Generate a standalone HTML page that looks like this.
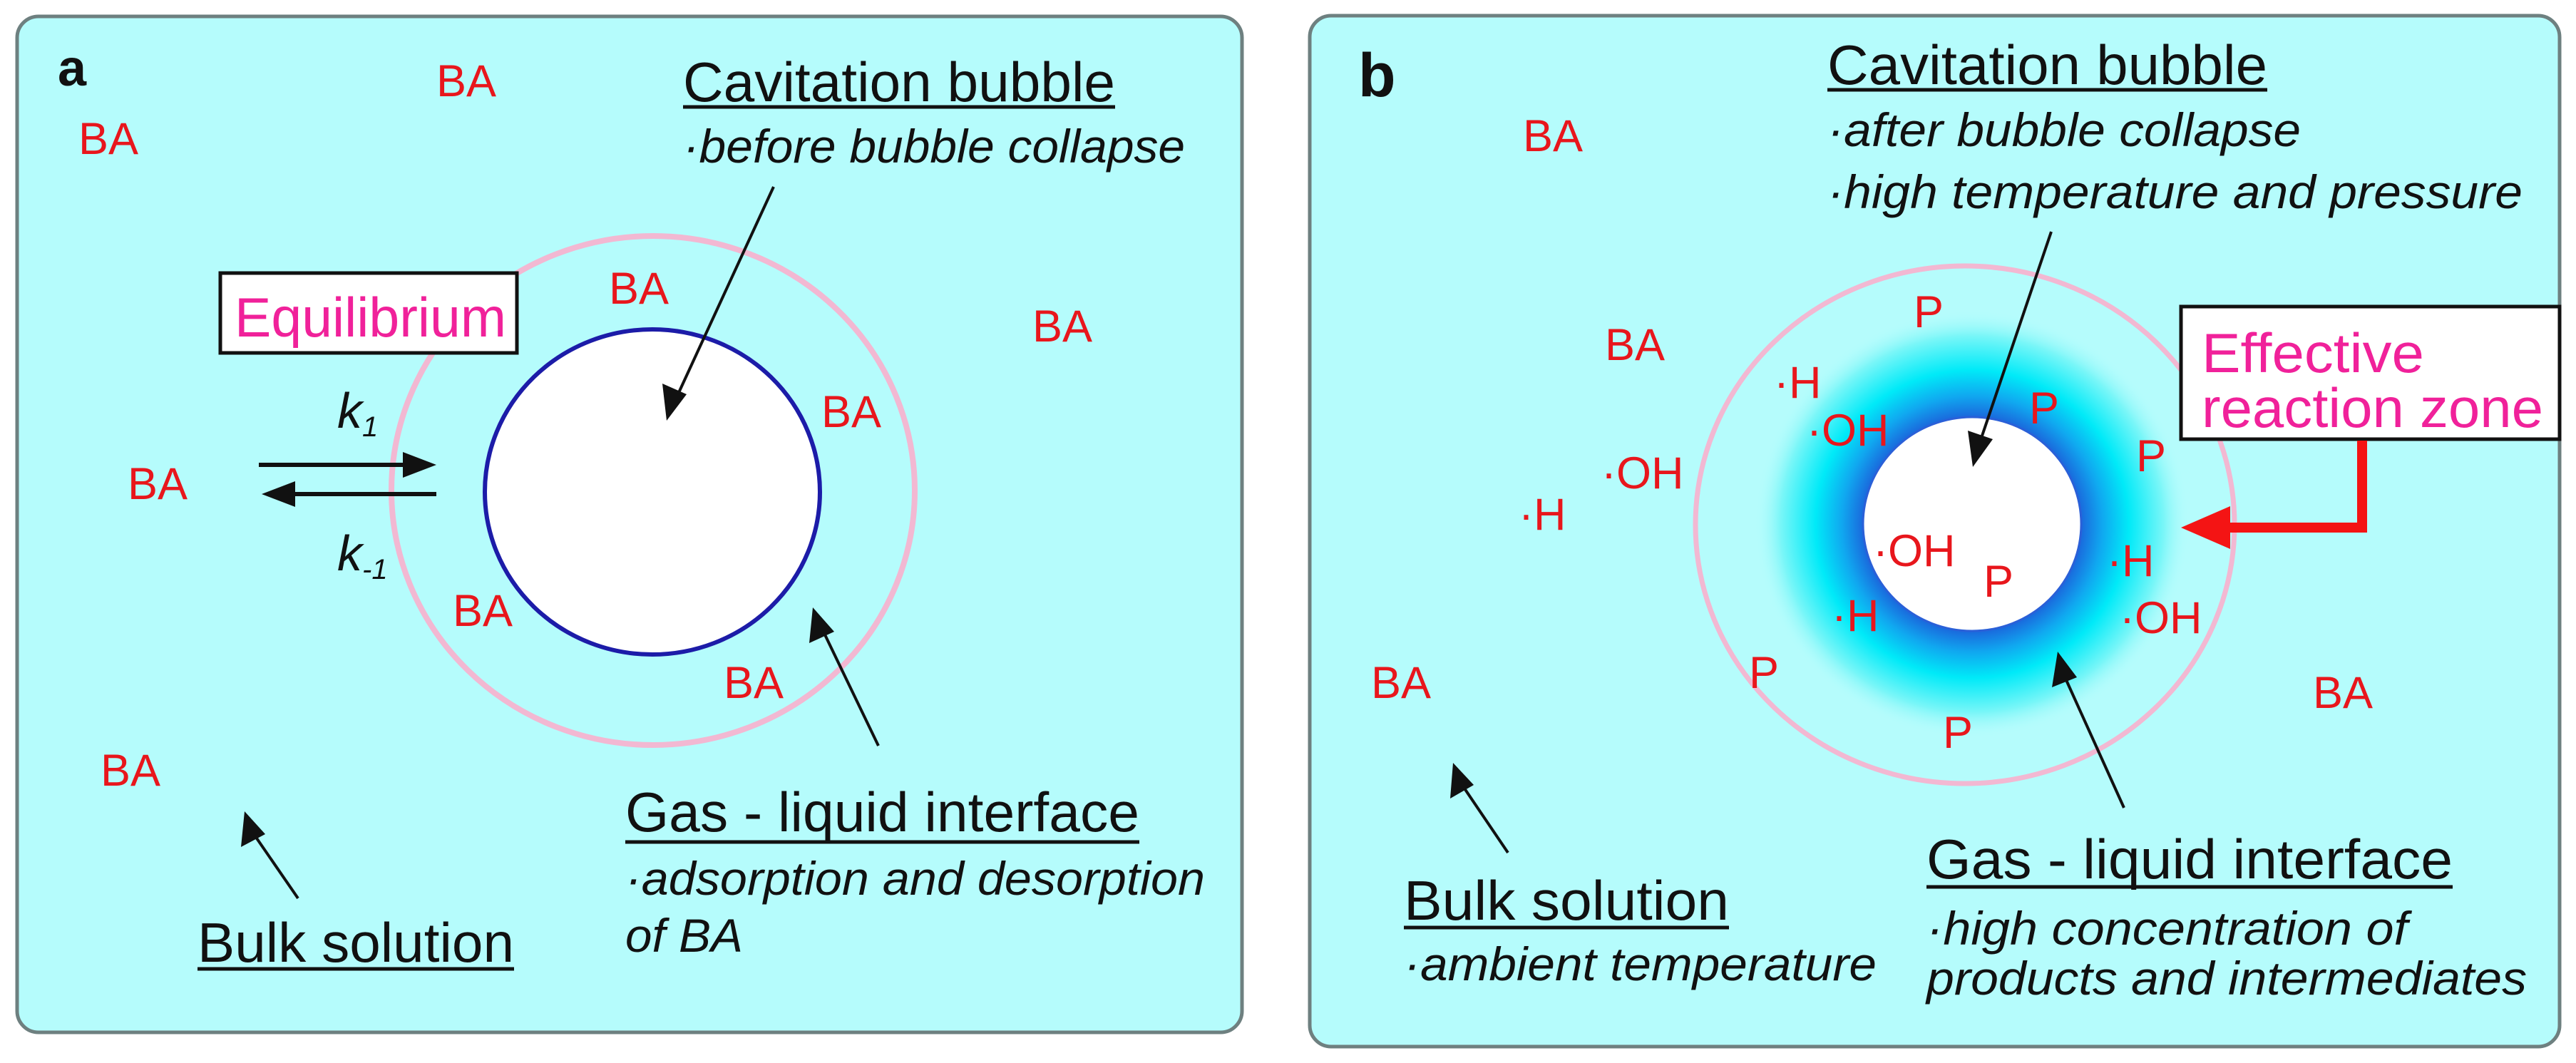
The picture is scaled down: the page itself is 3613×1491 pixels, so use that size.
<!DOCTYPE html>
<html><head><meta charset="utf-8"><style>
html,body{margin:0;padding:0;background:#fff;}
svg{display:block;}
text{font-family:"Liberation Sans",Arial,sans-serif;}
.r{fill:#e8161c;font-size:63px;}
.t{fill:#111;font-size:78px;}
.i{fill:#111;font-size:66px;font-style:italic;}
</style></head><body>
<svg width="3613" height="1491" viewBox="0 0 3613 1491" xmlns="http://www.w3.org/2000/svg">
<defs>
<radialGradient id="g" cx="0.5" cy="0.5" r="0.5">
<stop offset="0" stop-color="#1a60d8"/>
<stop offset="0.5" stop-color="#1a68dc"/>
<stop offset="0.6" stop-color="#10a8f0"/>
<stop offset="0.72" stop-color="#00eaf8"/>
<stop offset="0.88" stop-color="#78f6f8"/>
<stop offset="1" stop-color="#b5fcfc" stop-opacity="0"/>
</radialGradient>
</defs>
<rect x="24" y="23" width="1718" height="1425" rx="30" fill="#b5fcfc" stroke="#6e8080" stroke-width="5"/>
<rect x="1837" y="22" width="1753" height="1446" rx="30" fill="#b5fcfc" stroke="#6e8080" stroke-width="5"/>

<text x="81" y="120" font-size="72" font-weight="bold" fill="#111">a</text>
<ellipse cx="916" cy="688" rx="367" ry="357" fill="none" stroke="#f2b8d2" stroke-width="8"/>
<ellipse cx="915" cy="690" rx="235" ry="228" fill="#fff" stroke="#1c1ca8" stroke-width="6"/>

<text class="r" x="612" y="135">BA</text>
<text class="r" x="110" y="216">BA</text>
<text class="r" x="854" y="426">BA</text>
<text class="r" x="1448" y="479">BA</text>
<text class="r" x="1152" y="599">BA</text>
<text class="r" x="179" y="700">BA</text>
<text class="r" x="635" y="878">BA</text>
<text class="r" x="1015" y="979">BA</text>
<text class="r" x="141" y="1102">BA</text>

<text class="t" x="958" y="142" textLength="606" lengthAdjust="spacingAndGlyphs">Cavitation bubble</text>
<line x1="958" y1="150" x2="1564" y2="150" stroke="#111" stroke-width="5"/>
<text class="i" x="958" y="228" textLength="704" lengthAdjust="spacingAndGlyphs">·before bubble collapse</text>

<rect x="309" y="383" width="416" height="112" fill="#fff" stroke="#111" stroke-width="5"/>
<text x="329" y="472" font-size="78" fill="#f0219a" textLength="381" lengthAdjust="spacingAndGlyphs">Equilibrium</text>

<text x="473" y="600" font-size="70" font-style="italic" fill="#111">k<tspan font-size="40" dy="12">1</tspan></text>
<text x="473" y="800" font-size="70" font-style="italic" fill="#111">k<tspan font-size="40" dy="12">-1</tspan></text>
<line x1="363" y1="652" x2="575" y2="652" stroke="#111" stroke-width="6"/>
<polygon points="612,652 565,634 565,670" fill="#111"/>
<line x1="405" y1="693" x2="612" y2="693" stroke="#111" stroke-width="6"/>
<polygon points="367,693 414,675 414,711" fill="#111"/>

<line x1="1085" y1="262" x2="950" y2="555" stroke="#111" stroke-width="4"/>
<polygon points="935,590 929,538 963,553" fill="#111"/>
<line x1="1232" y1="1046" x2="1153" y2="882" stroke="#111" stroke-width="4"/>
<polygon points="1140,852 1135,902 1170,886" fill="#111"/>
<line x1="418" y1="1260" x2="356" y2="1170" stroke="#111" stroke-width="4"/>
<polygon points="343,1138 338,1188 372,1170" fill="#111"/>

<text class="t" x="277" y="1349" textLength="444" lengthAdjust="spacingAndGlyphs">Bulk solution</text>
<line x1="277" y1="1359" x2="721" y2="1359" stroke="#111" stroke-width="5"/>
<text class="t" x="877" y="1166" textLength="721" lengthAdjust="spacingAndGlyphs">Gas - liquid interface</text>
<line x1="877" y1="1181" x2="1598" y2="1181" stroke="#111" stroke-width="5"/>
<text class="i" x="877" y="1255" textLength="813" lengthAdjust="spacingAndGlyphs">·adsorption and desorption</text>
<text class="i" x="877" y="1335" textLength="165" lengthAdjust="spacingAndGlyphs">of BA</text>

<text x="1905" y="135" font-size="86" font-weight="bold" fill="#111">b</text>
<ellipse cx="2766" cy="735" rx="305" ry="300" fill="url(#g)"/>
<ellipse cx="2756" cy="736" rx="378" ry="363" fill="none" stroke="#f2b8d2" stroke-width="7"/>
<ellipse cx="2766" cy="735" rx="153" ry="150" fill="#fff" stroke="#2a60d8" stroke-width="3"/>

<text class="t" x="2563" y="118" textLength="617" lengthAdjust="spacingAndGlyphs">Cavitation bubble</text>
<line x1="2563" y1="126" x2="3180" y2="126" stroke="#111" stroke-width="5"/>
<text class="i" x="2563" y="205" textLength="664" lengthAdjust="spacingAndGlyphs">·after bubble collapse</text>
<text class="i" x="2563" y="292" textLength="975" lengthAdjust="spacingAndGlyphs">·high temperature and pressure</text>

<text class="r" x="2136" y="212">BA</text>
<text class="r" x="2251" y="505">BA</text>
<text class="r" x="1923" y="979">BA</text>
<text class="r" x="3244" y="993">BA</text>
<text class="r" x="2684" y="459">P</text>
<text class="r" x="2846" y="594">P</text>
<text class="r" x="2996" y="661">P</text>
<text class="r" x="2782" y="837">P</text>
<text class="r" x="2453" y="965">P</text>
<text class="r" x="2725" y="1049">P</text>
<text class="r" x="2488" y="558">·H</text>
<text class="r" x="2534" y="625">·OH</text>
<text class="r" x="2246" y="685">·OH</text>
<text class="r" x="2130" y="743">·H</text>
<text class="r" x="2627" y="794">·OH</text>
<text class="r" x="2955" y="808">·H</text>
<text class="r" x="2569" y="885">·H</text>
<text class="r" x="2973" y="888">·OH</text>

<line x1="2877" y1="325" x2="2777" y2="620" stroke="#111" stroke-width="4"/>
<polygon points="2767,655 2760,604 2795,616" fill="#111"/>
<line x1="2979" y1="1133" x2="2894" y2="945" stroke="#111" stroke-width="4"/>
<polygon points="2886,914 2878,964 2913,950" fill="#111"/>
<line x1="2115" y1="1196" x2="2050" y2="1100" stroke="#111" stroke-width="4"/>
<polygon points="2038,1070 2034,1120 2067,1101" fill="#111"/>

<rect x="3059" y="430" width="531" height="186" fill="#fff" stroke="#111" stroke-width="5"/>
<text x="3088" y="522" font-size="78" fill="#f0219a" textLength="312" lengthAdjust="spacingAndGlyphs">Effective</text>
<text x="3088" y="599" font-size="78" fill="#f0219a" textLength="479" lengthAdjust="spacingAndGlyphs">reaction zone</text>
<polyline points="3313,618 3313,740 3120,740" fill="none" stroke="#f41414" stroke-width="14"/>
<polygon points="3059,740 3128,710 3128,770" fill="#f41414"/>

<text class="t" x="1969" y="1290" textLength="456" lengthAdjust="spacingAndGlyphs">Bulk solution</text>
<line x1="1969" y1="1301" x2="2425" y2="1301" stroke="#111" stroke-width="5"/>
<text class="i" x="1969" y="1375" textLength="663" lengthAdjust="spacingAndGlyphs">·ambient temperature</text>
<text class="t" x="2702" y="1232" textLength="738" lengthAdjust="spacingAndGlyphs">Gas - liquid interface</text>
<line x1="2702" y1="1244" x2="3440" y2="1244" stroke="#111" stroke-width="5"/>
<text class="i" x="2702" y="1325" textLength="675" lengthAdjust="spacingAndGlyphs">·high concentration of</text>
<text class="i" x="2702" y="1395" textLength="842" lengthAdjust="spacingAndGlyphs">products and intermediates</text>
</svg>
</body></html>
